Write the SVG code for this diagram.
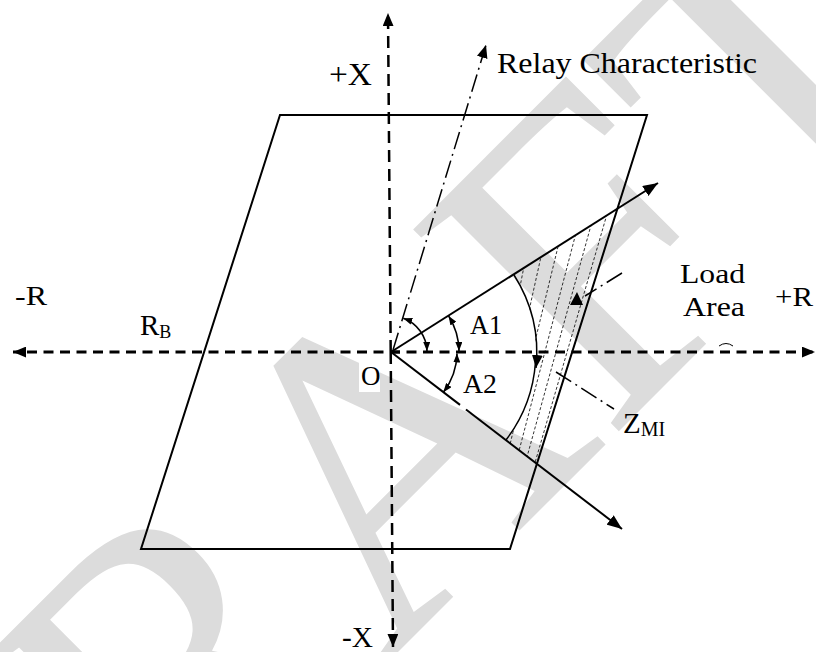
<svg xmlns="http://www.w3.org/2000/svg" width="816" height="652" viewBox="0 0 816 652">
<style>
.lbl{font-family:"Liberation Serif","Times New Roman",serif;fill:#000}
.wm{font-family:"Liberation Serif","Times New Roman",serif;fill:#dcdcdc}
.solid{fill:none;stroke:#000;stroke-width:2}
.axis{fill:none;stroke:#000;stroke-width:3;stroke-dasharray:10 6.5}
.vaxis{fill:none;stroke:#000;stroke-width:2.5;stroke-dasharray:12 7}
.dashdot{fill:none;stroke:#000;stroke-width:1.5;stroke-dasharray:18 5 2 5}
.hatch{fill:none;stroke:#000;stroke-width:0.8;stroke-dasharray:3 2}
.angle{fill:none;stroke:#000;stroke-width:1.6}
</style>
<defs>
<marker id="arr" viewBox="0 0 12 10" refX="12" refY="5" markerWidth="13" markerHeight="11" markerUnits="userSpaceOnUse" orient="auto"><path d="M0,0 L12,5 L0,10 z" fill="#000"/></marker>
<marker id="arrBig" viewBox="0 0 14 11" refX="14" refY="5.5" markerWidth="15" markerHeight="12" markerUnits="userSpaceOnUse" orient="auto"><path d="M0,0 L14,5.5 L0,11 z" fill="#000"/></marker>
<marker id="sm" viewBox="0 0 9 7" refX="9" refY="3.5" markerWidth="9" markerHeight="7" markerUnits="userSpaceOnUse" orient="auto-start-reverse"><path d="M0,0 L9,3.5 L0,7 z" fill="#000"/></marker>
<clipPath id="loadClip"><path d="M514,275 L617,210 L537,464 L506,440 A145,145 0 0,0 514,275 Z"/></clipPath>
<clipPath id="pageClip"><rect x="0" y="0" width="816" height="652"/></clipPath>
</defs>

<g id="watermark" clip-path="url(#pageClip)">
<text class="wm" x="-49" y="1099" font-size="440" transform="rotate(-45 -49 1099)">DRAFT</text>
<rect x="359" y="361" width="21" height="31" fill="#fff"/>
</g>

<g id="zone">
<polygon class="solid" points="280,115 647,115 510,549 141,549"/>
</g>

<g id="load-area">
<g clip-path="url(#loadClip)">
<line class="hatch" x1="614" y1="190" x2="530" y2="480"/>
<line class="hatch" x1="598" y1="200" x2="522" y2="475"/>
<line class="hatch" x1="582" y1="210" x2="514" y2="470"/>
<line class="hatch" x1="564" y1="222" x2="505" y2="465"/>
<line class="hatch" x1="546" y1="234" x2="496" y2="460"/>
<line class="hatch" x1="528" y1="246" x2="487" y2="455"/>
</g>
</g>

<g id="connectors">
<line class="axis" x1="400" y1="352" x2="13" y2="352" marker-end="url(#arr)"/>
<line class="axis" x1="390" y1="352" x2="815" y2="352" marker-end="url(#arr)"/>
<line class="vaxis" x1="390.7" y1="352" x2="388" y2="13" marker-end="url(#arr)"/>
<line class="vaxis" x1="390.7" y1="352" x2="393" y2="647" marker-end="url(#arr)"/>
<line class="solid" x1="391" y1="352" x2="658" y2="183" marker-end="url(#arrBig)"/>
<line class="solid" x1="391" y1="352" x2="460" y2="404.9"/>
<line class="solid" x1="466" y1="409.5" x2="622" y2="529" marker-end="url(#arrBig)"/>
<line class="dashdot" x1="393" y1="350" x2="486" y2="45" marker-end="url(#arr)"/>
<path class="angle" d="M403.3,318.2 A36,36 0 0,1 427,351" marker-start="url(#sm)" marker-end="url(#sm)"/>
<path class="angle" d="M448.6,315.9 A68,68 0 0,1 459,351" marker-start="url(#sm)" marker-end="url(#sm)"/>
<path class="angle" d="M457,353.5 A66,66 0 0,1 443.4,392.2" marker-start="url(#sm)" marker-end="url(#sm)"/>
<path class="solid" style="stroke-width:1.5" d="M514,275 A145,145 0 0,1 536,368" marker-end="url(#arr)"/>
<path class="solid" style="stroke-width:1.5" d="M535.5,362 A145,145 0 0,1 506,440"/>
<line class="dashdot" x1="622" y1="273" x2="585" y2="296"/>
<polygon points="577,292 570,305 583,305" fill="#000"/>
<line class="dashdot" x1="556" y1="372" x2="614" y2="409"/>
<path d="M719,346 Q726,341 733,346" fill="none" stroke="#000" stroke-width="1"/>
</g>

<g id="labels">
<text class="lbl" x="497" y="73" font-size="30" textLength="260" lengthAdjust="spacingAndGlyphs">Relay Characteristic</text>
<text class="lbl" x="329" y="85" font-size="32" textLength="43" lengthAdjust="spacingAndGlyphs">+X</text>
<text class="lbl" x="342" y="647" font-size="29" textLength="31" lengthAdjust="spacingAndGlyphs">-X</text>
<text class="lbl" x="15" y="305" font-size="27" textLength="32" lengthAdjust="spacingAndGlyphs">-R</text>
<text class="lbl" x="775" y="306" font-size="27" textLength="38" lengthAdjust="spacingAndGlyphs">+R</text>
<text class="lbl" x="680" y="283" font-size="28" textLength="65" lengthAdjust="spacingAndGlyphs">Load</text>
<text class="lbl" x="683" y="316" font-size="28" textLength="62" lengthAdjust="spacingAndGlyphs">Area</text>
<text class="lbl" x="140" y="335" font-size="29">R<tspan font-size="18" dy="3">B</tspan></text>
<text class="lbl" x="470" y="334" font-size="27" textLength="32" lengthAdjust="spacingAndGlyphs">A1</text>
<text class="lbl" x="463" y="393" font-size="27" textLength="34" lengthAdjust="spacingAndGlyphs">A2</text>
<text class="lbl" x="361" y="385" font-size="27">O</text>
<text class="lbl" x="623" y="433" font-size="29">Z<tspan font-size="20" dy="3">MI</tspan></text>
</g>
</svg>
